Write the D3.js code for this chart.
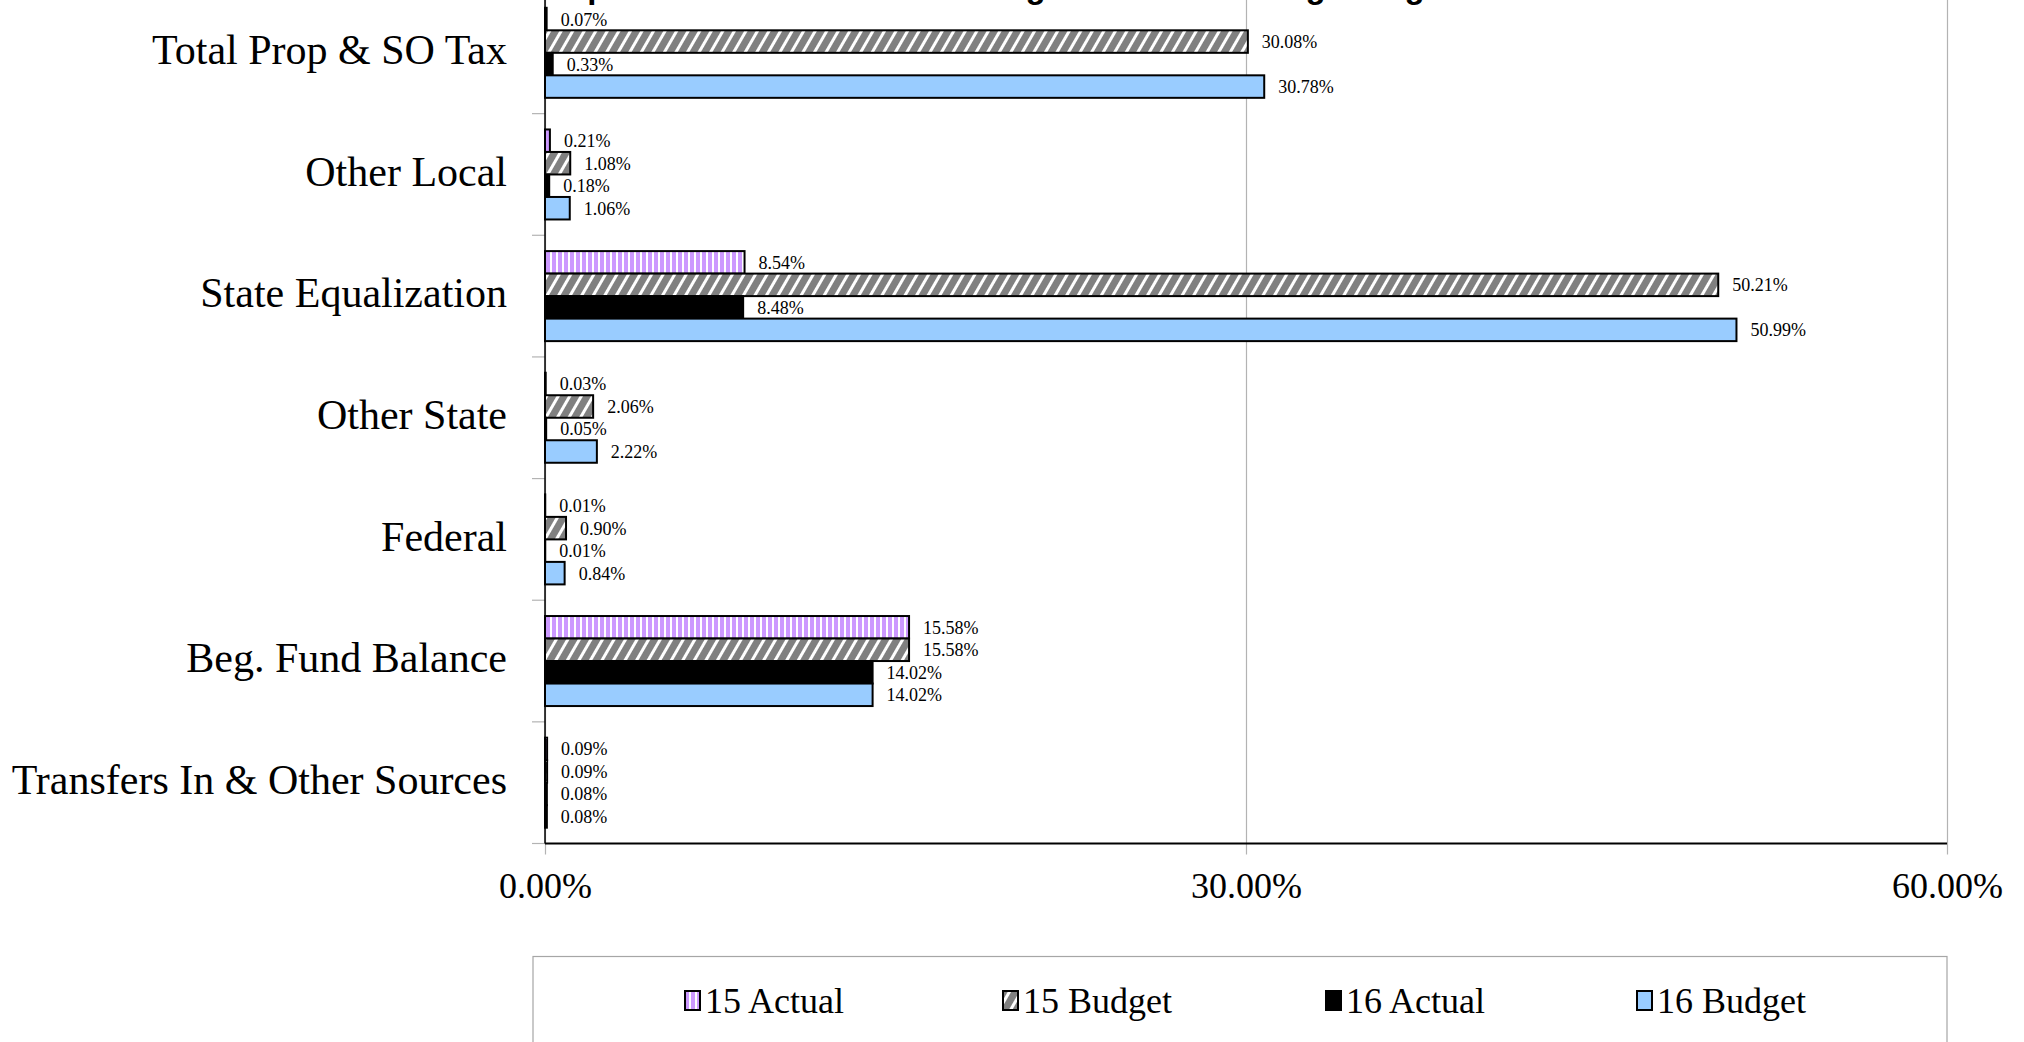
<!DOCTYPE html>
<html>
<head>
<meta charset="utf-8">
<script src="https://cdn.jsdelivr.net/npm/d3@7"></script>
<style>
  body { margin: 0; background: #fff; }
  svg { display: block; }
</style>
</head>
<body>
<svg></svg>
<script>
// Chart data
let categories = ['Total Prop & SO Tax', 'Other Local', 'State Equalization', 'Other State',
    'Federal', 'Beg. Fund Balance', 'Transfers In & Other Sources'];
let seriesNames = ['15 Actual', '15 Budget', '16 Actual', '16 Budget'];
let actual15 = [0.07, 0.21, 8.54, 0.03, 0.01, 15.58, 0.09];
let budget15 = [30.08, 1.08, 50.21, 2.06, 0.90, 15.58, 0.09];
let actual16 = [0.33, 0.18, 8.48, 0.05, 0.01, 14.02, 0.08];
let budget16 = [30.78, 1.06, 50.99, 2.22, 0.84, 14.02, 0.08];
let tickValues = [0, 30, 60];
let titleText = 'Comparison of Revenues to Budget Totals with Beginning Fund Balance';

// Canvas and plot area
let width = 2024;
let height = 1042;
let plotLeft = 545;
let plotRight = 1947;
let plotTop = -8;
let plotBottom = 843.5;

let svg = d3.select('svg')
    .attr('width', width)
    .attr('height', height);

let serif = '"Liberation Serif", "Times New Roman", serif';

// Fill patterns for each series
let defs = svg.append('defs');

let p1 = defs.append('pattern')
    .attr('id', 'p15a')
    .attr('patternUnits', 'userSpaceOnUse')
    .attr('width', 6)
    .attr('height', 6);
p1.append('rect').attr('width', 6).attr('height', 6).attr('fill', '#cc99ff');
p1.append('rect').attr('x', 4).attr('width', 2).attr('height', 6).attr('fill', '#ffffff');

let p2 = defs.append('pattern')
    .attr('id', 'p15b')
    .attr('patternUnits', 'userSpaceOnUse')
    .attr('width', 10)
    .attr('height', 10)
    .attr('patternTransform', 'rotate(30)');
p2.append('rect').attr('width', 10).attr('height', 10).attr('fill', '#808080');
p2.append('rect').attr('width', 3).attr('height', 10).attr('fill', '#ffffff');

let fills = ['url(#p15a)', 'url(#p15b)', '#000000', '#99ccff'];

// Build rows from the arrays
let seriesValues = [actual15, budget15, actual16, budget16];
let rows = [];
categories.forEach((c, i) => {
    seriesNames.forEach((s, j) => {
        rows.push({ cat: c, series: s, value: seriesValues[j][i], k: j });
    });
});

// Scales
let xScale = d3.scaleLinear()
    .domain([0, 60])
    .range([plotLeft, plotRight]);

let yScale = d3.scaleBand()
    .domain(categories)
    .range([plotTop, plotBottom])
    .padding(0);

let bw = yScale.bandwidth();
let ySeries = d3.scaleBand()
    .domain(seriesNames)
    .range([bw * 0.13, bw * 0.87])
    .padding(0);

// Title (mostly above the visible area, like the reference)
svg.append('text')
    .attr('x', 514)
    .attr('y', -2)
    .attr('font-family', '"Liberation Sans", Arial, sans-serif')
    .attr('font-weight', 'bold')
    .attr('font-size', 33)
    .text(titleText);

// Gridlines + ticks below the axis
let grid = svg.append('g')
    .attr('transform', `translate(0, ${plotBottom})`)
    .call(d3.axisBottom(xScale).tickValues(tickValues).tickSize(11).tickFormat(''));
grid.select('.domain').remove();
grid.selectAll('line')
    .attr('y1', plotTop - plotBottom)
    .attr('stroke', '#b3b3b3')
    .attr('stroke-width', 1.2);

// Category separator ticks on the left
svg.append('g')
    .selectAll('line')
    .data(categories.map((c) => yScale(c)).concat([plotBottom]))
    .enter()
    .append('line')
    .attr('x1', plotLeft - 13)
    .attr('x2', plotLeft)
    .attr('y1', (d) => d)
    .attr('y2', (d) => d)
    .attr('stroke', '#b3b3b3')
    .attr('stroke-width', 1.2);

// Bars
svg.append('g')
    .selectAll('rect')
    .data(rows)
    .enter()
    .append('rect')
    .attr('x', xScale(0))
    .attr('y', (d) => yScale(d.cat) + ySeries(d.series))
    .attr('width', (d) => xScale(d.value) - xScale(0))
    .attr('height', ySeries.bandwidth())
    .attr('fill', (d) => fills[d.k])
    .attr('stroke', '#000')
    .attr('stroke-width', 2);

// Data labels
svg.append('g')
    .selectAll('text')
    .data(rows)
    .enter()
    .append('text')
    .attr('x', (d) => xScale(d.value) + 14)
    .attr('y', (d) => yScale(d.cat) + ySeries(d.series) + ySeries.bandwidth() / 2)
    .attr('dy', '0.36em')
    .attr('font-family', serif)
    .attr('font-size', 18)
    .text((d) => d.value.toFixed(2) + '%');

// Axis lines
svg.append('line')
    .attr('x1', plotLeft).attr('x2', plotLeft)
    .attr('y1', plotTop).attr('y2', plotBottom)
    .attr('stroke', '#000')
    .attr('stroke-width', 1.5);
svg.append('line')
    .attr('x1', plotLeft).attr('x2', plotRight)
    .attr('y1', plotBottom).attr('y2', plotBottom)
    .attr('stroke', '#000')
    .attr('stroke-width', 2);

// X tick labels
let xAxis = svg.append('g')
    .attr('transform', `translate(0, ${plotBottom})`)
    .call(d3.axisBottom(xScale)
        .tickValues(tickValues)
        .tickSize(11)
        .tickPadding(18)
        .tickFormat((d) => d.toFixed(2) + '%'));
xAxis.select('.domain').remove();
xAxis.selectAll('line').remove();
xAxis.selectAll('text')
    .attr('font-family', serif)
    .attr('font-size', 36)
    .attr('fill', '#000');

// Category labels
let yAxis = svg.append('g')
    .attr('transform', `translate(${plotLeft}, 0)`)
    .call(d3.axisLeft(yScale).tickSize(0).tickPadding(38));
yAxis.select('.domain').remove();
yAxis.selectAll('text')
    .attr('dy', '0.27em')
    .attr('font-family', serif)
    .attr('font-size', 42)
    .attr('fill', '#000');

// Legend
let legendX = [685, 1003, 1326, 1637];
svg.append('rect')
    .attr('x', 533)
    .attr('y', 956.5)
    .attr('width', plotRight - 533)
    .attr('height', 150)
    .attr('fill', 'none')
    .attr('stroke', '#a6a6a6')
    .attr('stroke-width', 1.2);

let legend = svg.append('g')
    .selectAll('g')
    .data(seriesNames)
    .enter()
    .append('g')
    .attr('transform', (d, i) => `translate(${legendX[i]}, 1000)`);

legend.append('rect')
    .attr('x', 0)
    .attr('y', -9)
    .attr('width', 15)
    .attr('height', 19)
    .attr('fill', (d, i) => fills[i])
    .attr('stroke', '#000')
    .attr('stroke-width', 2);

legend.append('text')
    .attr('x', 20)
    .attr('dy', '0.35em')
    .attr('font-family', serif)
    .attr('font-size', 36)
    .text((d) => d);
</script>
</body>
</html>
